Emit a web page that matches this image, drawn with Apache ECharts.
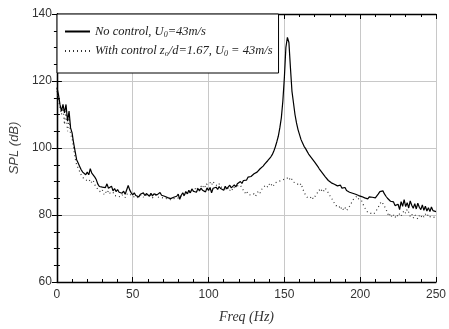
<!DOCTYPE html>
<html><head><meta charset="utf-8">
<script src="https://cdn.jsdelivr.net/npm/echarts@6/dist/echarts.min.js"></script>
<style>html,body{margin:0;padding:0;background:#fff}#c{width:449px;height:329px}</style>
</head><body><div id="c"></div>
<script>
// Frequencies 0..250 Hz, 1 Hz step
const freq = Array.from({length: 251}, (_, i) => i);
const noControl = [
118,116,113,111,113,110.5,113,108,111,106,104.5,101.5,99,96.5,95.5,94.5,93.5,92.8,92.5,92,
92.8,92,93.8,92.5,92.8,91.3,90.5,89.2,88.5,89,88.3,88.7,88.2,89.3,88,87.8,88.6,87.2,87.9,87,
87.6,86.8,87.3,86.5,87.1,86.2,86.4,88.8,87.5,86.6,86,86.6,85.8,86.3,85.4,86.2,85.7,86.6,85.8,86.4,
86.1,85.6,86.5,85.7,86.3,86.6,86,85.5,86.7,85.9,86.3,85.6,85.9,85.2,85.7,84.9,84.5,85.3,84.8,85.6,
86.2,84.7,85.9,86.6,85.8,87,86.3,87.4,86.6,87.8,87.1,87.6,86.8,87.9,87.2,88,87.4,87.8,86.9,88.1,
87.3,88.2,86.6,88,87.5,88.3,87.6,88.5,87.9,88.2,87.4,88.6,87.8,88.3,88.9,88.1,88.5,89,88.4,89.3,
88.8,90,89.4,90.3,90.8,90.4,91.3,91,91.5,91.8,92.3,92.1,92.8,93.3,93.8,94.2,94.6,95.2,95.6,96.2,
96.6,97.3,98,99,100.3,101.8,103.5,106,109,114,121,130,133,131.5,124,117,113.5,110,107.5,105.5,
104,102.5,101.5,100.5,99.8,99,98.2,97.8,97,96.4,95.8,95.3,94.5,93.8,93.2,92.6,92.2,91.4,91,90.3,
90.6,89.6,89.9,89.2,89.5,88.7,88.4,88.9,88,87.6,88.2,87.3,87.7,86.8,87.2,86.5,86.9,86.2,86.6,85.8,
86.3,85.5,85.9,85.1,85.6,84.8,85.4,85,85.3,85.6,85.1,85.7,86.3,87,87.4,87.2,86.3,85.6,85,84.6,
84.1,83.6,83.9,82.8,82.3,83.2,81.6,84,82.6,84.6,82.5,83.7,82.1,84.2,82.9,82,83.4,81.8,83.5,82.3,
81.6,83,81.4,82.6,81.2,82.2,81,82.4,81.3,81.8,81
];
const withControl = [
117,115,112,110,112.5,107,111,105,109,104,103,100,97,95,94,93,92,91.2,91.5,90.5,
91,90,90.6,89.6,90.2,89,88.4,87.6,88,86.8,87.4,86.2,87,86.4,87.3,86.5,86,86.8,85.8,86.3,
85.6,86.1,85.4,86,85.5,85.2,86.2,85.7,86.4,85.8,86,85.4,85.9,85.2,85.8,85.4,86,85.3,85.9,85.5,
86.1,85.6,85.8,85.1,85.7,85.4,86,85.3,85.8,85.2,85.6,85,85.5,84.8,85.3,84.6,84.2,84.9,84.4,85.1,
85.6,85,86,86.4,85.8,86.9,86.3,87.2,86.5,87.6,87,88,87.4,88.3,87.6,88.6,88,89,88.3,89.3,
88.8,89.7,88.9,90,89.2,89.6,88.7,89.3,88.4,88.9,88,88.5,87.5,88.1,87.3,88,87.4,88.3,87.8,88.7,
88.2,88.9,88,87.4,86.6,87.2,86.2,86.7,85.9,85.4,86.3,85.6,86.5,87.2,86.6,87.6,88.3,87.8,88.9,88.3,
89.2,88.6,89.4,88.8,89.6,89.1,90,89.5,90.3,89.8,90.7,90.2,91,90.4,91.2,90.6,89.8,90.3,89.5,89.9,
88.8,89.4,88,86.8,86,85.3,85.8,85,85.6,84.8,85.4,86.1,86.8,87.5,86.9,87.8,87.2,88,87.3,86.6,
85.8,85.2,84.3,83.5,82.8,82.3,82.8,81.7,82.4,81.5,82.2,81.3,81.9,82.6,83.4,84.3,85,84.5,85.6,84.8,
85.2,84.2,83.1,82.2,81.4,80.8,81.3,80.5,81,80.3,80.8,81.6,82.4,83.3,84,83.4,82.6,81.8,80.6,79.6,
80.4,79.3,80,79.2,80.1,79.5,80.4,79.7,80.6,81.3,80.5,81.7,80.8,79.6,80.3,79.1,80.1,79.4,78.8,79.8,
79.2,80,79.4,80.3,79.6,80.2,79.5,80,79.3,79.8,79.4
];
const xTicks = [0, 50, 100, 150, 200, 250];
const yTicks = [60, 80, 100, 120, 140];
const seriesNames = ['No control, U{s|0}=43m/s', 'With control z{s|o}/d=1.67, U{s|0} = 43m/s'];

const chart = echarts.init(document.getElementById('c'), null, {renderer: 'canvas'});
const axisCommon = {
  axisLine: {show: true, lineStyle: {color: '#000', width: 1.3}},
  axisTick: {show: true, inside: true, length: 5, lineStyle: {color: '#000'}},
  minorTick: {show: true, length: 3, lineStyle: {color: '#000'}}
};
const xBase = {type: 'value', min: xTicks[0], max: xTicks[xTicks.length-1], interval: 50};
const yBase = {type: 'value', min: yTicks[0], max: yTicks[yTicks.length-1], interval: 20};
chart.setOption({
  animation: false,
  backgroundColor: '#fff',
  grid: {left: 54, right: 6, top: 14, bottom: 46},
  legend: {
    orient: 'vertical', left: 57, top: 14, z: 10,
    backgroundColor: '#fff', borderColor: '#000', borderWidth: 1,
    padding: [11, 6, 15, 7], itemGap: 6, itemWidth: 25, itemHeight: 14,
    data: seriesNames,
    itemStyle: {opacity: 0},
    formatter: n => n,
    textStyle: {
      fontFamily: 'Liberation Serif', fontStyle: 'italic', fontSize: 12.5, color: '#222',
      rich: {s: {fontFamily: 'Liberation Serif', fontStyle: 'italic', fontSize: 8, color: '#222', verticalAlign: 'bottom', padding: [6, 0, 0, 0]}}
    }
  },
  xAxis: [
    Object.assign({}, xBase, axisCommon, {
      position: 'bottom',
      minorTick: {show: true, splitNumber: 5, length: 3, lineStyle: {color: '#000'}},
      splitLine: {show: true, lineStyle: {color: '#c8c8c8', width: 1}},
      axisLabel: {color: '#333', fontFamily: 'Liberation Sans', fontSize: 12, margin: 7},
      name: 'Freq (Hz)', nameLocation: 'middle', nameGap: 28,
      nameTextStyle: {fontFamily: 'Liberation Serif', fontStyle: 'italic', fontSize: 14, color: '#333'}
    }),
    Object.assign({}, xBase, axisCommon, {
      position: 'top',
      minorTick: {show: true, splitNumber: 5, length: 3, lineStyle: {color: '#000'}},
      splitLine: {show: false}, axisLabel: {show: false}
    })
  ],
  yAxis: [
    Object.assign({}, yBase, axisCommon, {
      position: 'left',
      minorTick: {show: true, splitNumber: 4, length: 3, lineStyle: {color: '#000'}},
      splitLine: {show: true, lineStyle: {color: '#c8c8c8', width: 1}},
      axisLabel: {color: '#333', fontFamily: 'Liberation Sans', fontSize: 12, margin: 5},
      name: 'SPL (dB)', nameLocation: 'middle', nameGap: 25, nameRotate: 90,
      nameTextStyle: {fontFamily: 'Liberation Sans', fontStyle: 'italic', fontSize: 13, color: '#444'}
    }),
    Object.assign({}, yBase, axisCommon, {
      position: 'right',
      minorTick: {show: true, splitNumber: 4, length: 3, lineStyle: {color: '#000'}},
      splitLine: {show: false}, axisLabel: {show: false}
    })
  ],
  series: [
    {
      name: seriesNames[0], type: 'line', showSymbol: false, symbol: 'none',
      xAxisIndex: 0, yAxisIndex: 0,
      lineStyle: {color: '#000', width: 1.2}, itemStyle: {color: '#000'},
      data: freq.map((f, i) => [f, noControl[i]]), z: 3
    },
    {
      name: seriesNames[1], type: 'line', showSymbol: false, symbol: 'none',
      xAxisIndex: 0, yAxisIndex: 0,
      lineStyle: {color: '#333', width: 1.2, type: [1, 3]}, itemStyle: {color: '#333'},
      data: freq.map((f, i) => [f, withControl[i]]), z: 2
    }
  ]
});
</script></body></html>
